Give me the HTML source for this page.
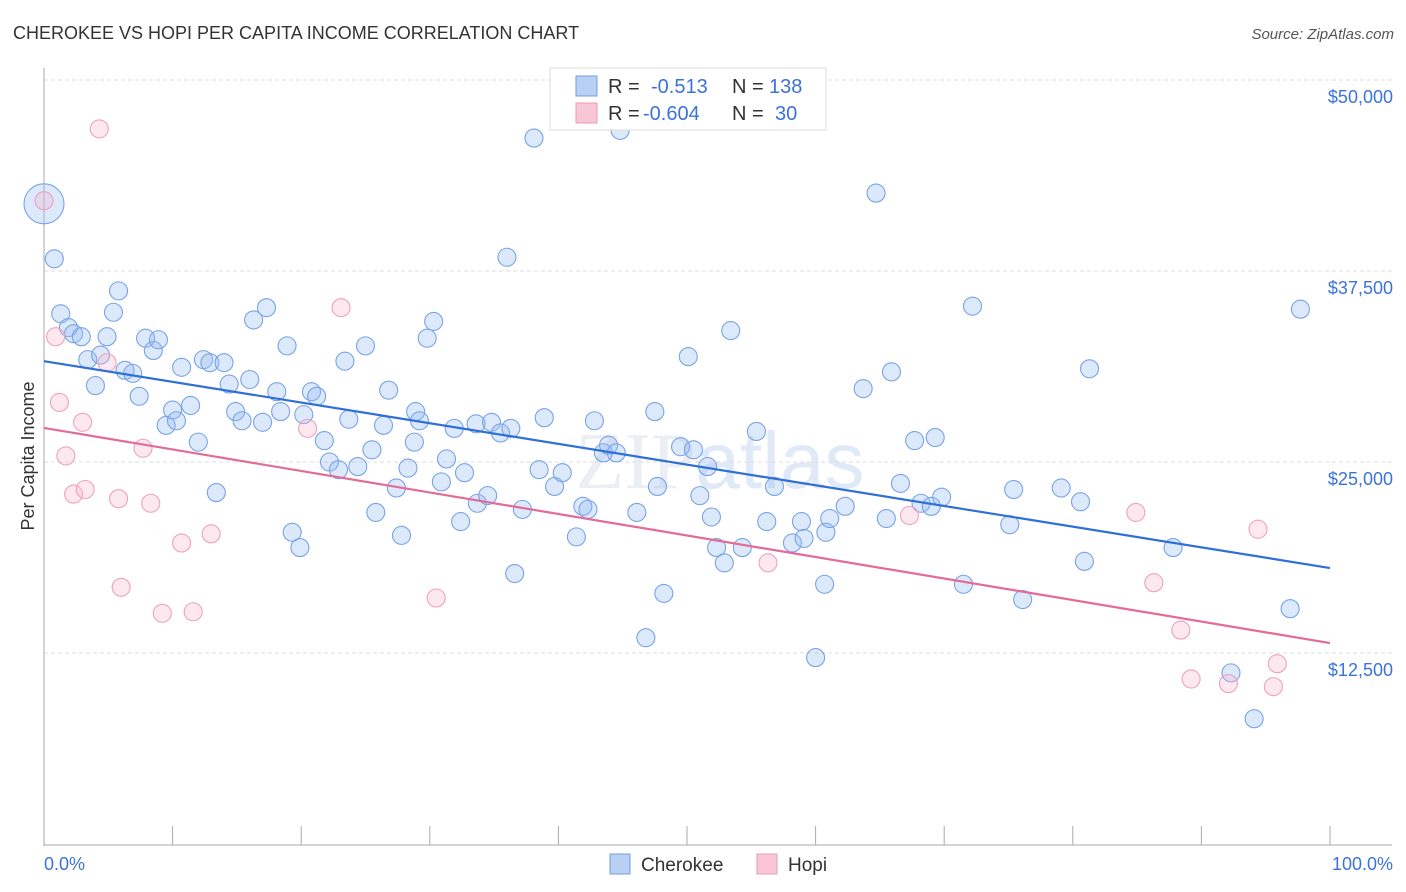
<!DOCTYPE html>
<html><head><meta charset="utf-8"><style>
body{margin:0;background:#fff;font-family:"Liberation Sans",sans-serif}
svg{display:block}
</style></head><body>
<svg id="chart" width="1406" height="892">
<text x="13" y="39" font-size="18" fill="#333">CHEROKEE VS HOPI PER CAPITA INCOME CORRELATION CHART</text>
<text x="1394" y="39" font-size="15" fill="#555" text-anchor="end" font-style="italic">Source: ZipAtlas.com</text>
<text x="720" y="488" font-size="80" fill="#ebeef3" text-anchor="middle" font-family="Liberation Serif">ZIP<tspan font-family="Liberation Sans" fill="#e0e9f7">atlas</tspan></text>
<g id="grid"></g><g id="axes"></g><g id="pts"></g><g id="lines"></g>
<text transform="translate(34,456) rotate(-90)" font-size="18" fill="#333" text-anchor="middle">Per Capita Income</text>
<text x="44" y="870" font-size="18" fill="#3b73d9">0.0%</text>
<text x="1393" y="870" font-size="18" fill="#3b73d9" text-anchor="end">100.0%</text>
<g>
<rect x="550" y="68" width="276" height="62" fill="#fff" stroke="#ddd"/>
<rect x="576" y="76" width="21" height="20" fill="#b8d0f4" stroke="#6f9de3"/>
<rect x="576" y="103" width="21" height="20" fill="#f9c6d6" stroke="#eb9ab5"/>
<text x="608" y="93" font-size="20" fill="#333">R = <tspan fill="#3b73d9" x="651">-0.513</tspan><tspan x="732">N = </tspan><tspan fill="#3b73d9" x="769">138</tspan></text>
<text x="608" y="120" font-size="20" fill="#333">R = <tspan fill="#3b73d9" x="643">-0.604</tspan><tspan x="732">N = </tspan><tspan fill="#3b73d9" x="775">30</tspan></text>
</g>
<g>
<rect x="610" y="854" width="20" height="20" fill="#b8d0f4" stroke="#6f9de3"/>
<text x="641" y="871" font-size="19" fill="#333">Cherokee</text>
<rect x="757" y="854" width="20" height="20" fill="#f9c6d6" stroke="#eb9ab5"/>
<text x="788" y="871" font-size="19" fill="#333">Hopi</text>
</g>
</svg>
<script>
const yTicks=[12500,25000,37500,50000];
const yTickLabels=["$12,500","$25,000","$37,500","$50,000"];
const xTicks=[0,10,20,30,40,50,60,70,80,90,100];
const cherokeeX=[0,0.8,1.3,1.9,2.3,2.9,3.4,4.0,4.4,4.9,5.4,5.8,6.3,6.9,7.4,7.9,8.5,8.9,9.5,10.0,10.3,10.7,11.4,12.0,12.4,12.9,13.4,14.0,14.4,14.9,15.4,16.0,16.3,17.0,17.3,18.1,18.4,18.9,19.3,19.9,20.2,20.8,21.2,21.8,22.2,22.9,23.4,23.7,24.4,25.0,25.5,25.8,26.4,26.8,27.4,27.8,28.3,28.8,28.9,29.2,29.8,30.3,30.9,31.3,31.9,32.4,32.7,33.6,33.7,34.5,34.8,35.5,36.0,36.3,36.6,37.2,38.1,38.5,38.9,39.7,40.3,41.4,41.9,42.3,42.8,43.5,43.9,44.5,44.8,46.1,46.8,47.5,47.7,48.2,49.5,50.1,50.5,51.0,51.6,51.9,52.3,52.9,53.4,54.3,55.4,56.2,56.8,58.2,58.9,59.1,60.0,60.7,60.8,61.1,62.3,63.7,64.7,65.5,65.9,66.6,67.7,68.2,69.0,69.3,69.8,71.5,72.2,75.1,75.4,76.1,79.1,80.6,80.9,81.3,87.8,92.3,94.1,96.9,97.7];
const cherokeeY=[41.9,38.3,34.7,33.8,33.4,33.2,31.7,30.0,32.0,33.2,34.8,36.2,31.0,30.8,29.3,33.1,32.3,33.0,27.4,28.4,27.7,31.2,28.7,26.3,31.7,31.5,23.0,31.5,30.1,28.3,27.7,30.4,34.3,27.6,35.1,29.6,28.3,32.6,20.4,19.4,28.1,29.6,29.3,26.4,25.0,24.5,31.6,27.8,24.7,32.6,25.8,21.7,27.4,29.7,23.3,20.2,24.6,26.3,28.3,27.7,33.1,34.2,23.7,25.2,27.2,21.1,24.3,27.5,22.3,22.8,27.6,26.9,38.4,27.2,17.7,21.9,46.2,24.5,27.9,23.4,24.3,20.1,22.1,21.9,27.7,25.6,26.1,25.6,46.7,21.7,13.5,28.3,23.4,16.4,26.0,31.9,25.8,22.8,24.7,21.4,19.4,18.4,33.6,19.4,27.0,21.1,23.4,19.7,21.1,20.0,12.2,17.0,20.4,21.3,22.1,29.8,42.6,21.3,30.9,23.6,26.4,22.3,22.1,26.6,22.7,17.0,35.2,20.9,23.2,16.0,23.3,22.4,18.5,31.1,19.4,11.2,8.2,15.4,35.0];
const hopiX=[0,0.9,1.2,1.7,2.3,3.0,3.2,4.3,4.9,5.8,6.0,7.7,8.3,9.2,10.7,11.6,13.0,20.5,23.1,30.5,56.3,67.3,84.9,86.3,88.4,89.2,92.1,94.4,95.6,95.9];
const hopiY=[42.1,33.2,28.9,25.4,22.9,27.6,23.2,46.8,31.5,22.6,16.8,25.9,22.3,15.1,19.7,15.2,20.3,27.2,35.1,16.1,18.4,21.5,21.7,17.1,14.0,10.8,10.5,20.6,10.3,11.8];
const cherokeeTrend=[31.6,18.06];
const hopiTrend=[27.23,13.15];
const NS="http://www.w3.org/2000/svg";
const X0=44,X1=1330,YB=844,PXK=191/12.5;
const xs=v=>X0+(X1-X0)*v/100;
const ys=k=>YB-k*PXK;
function mk(tag,attrs,parent){const e=document.createElementNS(NS,tag);for(const k in attrs)e.setAttribute(k,attrs[k]);document.getElementById(parent).appendChild(e);return e;}
yTicks.forEach((t,i)=>{
 const y=ys(t/1000);
 const g=mk('line',{x1:44,x2:1392,y1:y,y2:y,stroke:'#ddd','stroke-dasharray':'4,3'},'grid');
 
 
 const l=mk('text',{x:1393,y:y+23,'font-size':18,fill:'#3b73d9','text-anchor':'end'},'grid');
 l.textContent=yTickLabels[i];
 
 
});
const ya=mk('line',{x1:44,x2:44,y1:68,y2:846,stroke:'#aaa'},'axes');


const xa=mk('line',{x1:44,x2:1392,y1:845,y2:845,stroke:'#aaa'},'axes');


xTicks.forEach(t=>{
 const tk=mk('line',{x1:xs(t),x2:xs(t),y1:826,y2:845,stroke:'#aaa'},'axes');
 
 
});
cherokeeX.forEach((x,i)=>{
 const c=mk('circle',{cx:xs(x),cy:ys(cherokeeY[i]),r:i===0?20:9,fill:'rgba(150,188,242,0.33)',stroke:'#78a3e6','stroke-width':1.1},'pts');
 
 
});
hopiX.forEach((x,i)=>{
 const c=mk('circle',{cx:xs(x),cy:ys(hopiY[i]),r:9,fill:'rgba(247,180,205,0.3)',stroke:'#eda2bd','stroke-width':1.1},'pts');
 
 
});
const l1=mk('line',{x1:xs(0),x2:xs(100),y1:ys(cherokeeTrend[0]),y2:ys(cherokeeTrend[1]),stroke:'#2f6fd6','stroke-width':2.2},'lines');


const l2=mk('line',{x1:xs(0),x2:xs(100),y1:ys(hopiTrend[0]),y2:ys(hopiTrend[1]),stroke:'#e46a98','stroke-width':2.2},'lines');


</script>
</body></html>
